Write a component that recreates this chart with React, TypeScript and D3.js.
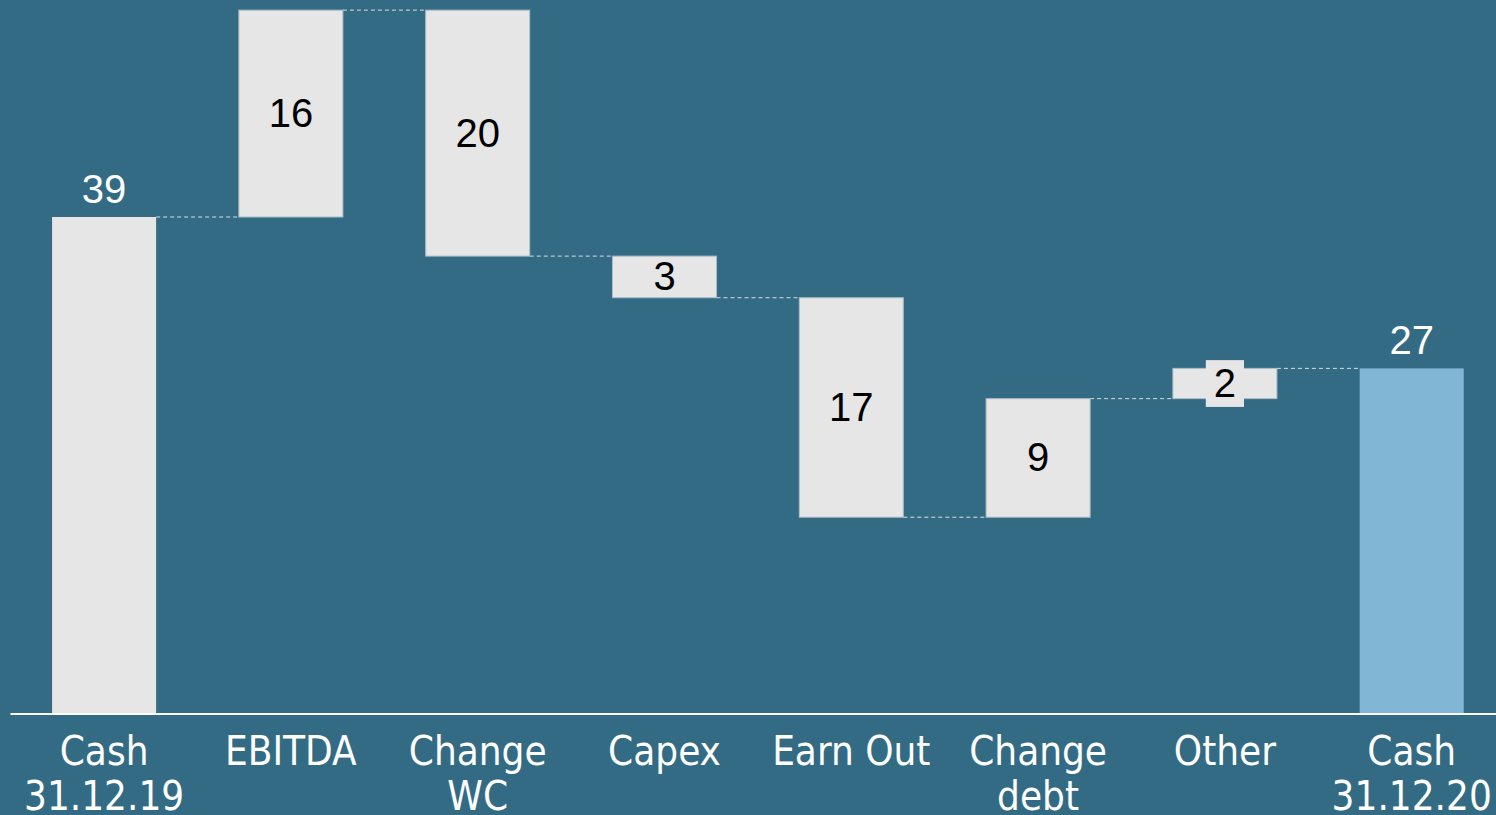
import React from "react";
import * as d3 from "d3";

const categories = ["Cash\n31.12.19", "EBITDA", "Change\nWC", "Capex", "Earn Out", "Change\ndebt", "Other", "Cash\n31.12.20"];
const startValue = 39.4;
const deltas = [16.4, -19.5, -3.3, -17.4, 9.4, 2.4];

const W = 1496;
const H = 815;
const BG = "#336b85";
const BAR = "#e6e6e6";
const END_BAR = "#82b6d5";

export default function App() {
  const x = d3
    .scaleBand<string>()
    .domain(categories)
    .range([10.7, 1505.1])
    .paddingInner(0.443)
    .paddingOuter(0.2215);
  const k = 12.614;
  const y = d3.scaleLinear().domain([0, 56]).range([714, 714 - 56 * k]);

  type Step = { cat: string; y0: number; y1: number; kind: "total" | "delta" | "end"; value: number };
  const steps: Step[] = [];
  let run = startValue;
  steps.push({ cat: categories[0], y0: 0, y1: startValue, kind: "total", value: startValue });
  deltas.forEach((d, i) => {
    const prev = run;
    run = run + d;
    steps.push({ cat: categories[i + 1], y0: prev, y1: run, kind: "delta", value: d });
  });
  steps.push({ cat: categories[categories.length - 1], y0: 0, y1: run, kind: "end", value: run });

  const bw = x.bandwidth();
  const fmt = (v: number) => String(Math.round(Math.abs(v)));

  return (
    <svg width={W} height={H} style={{ position: "absolute", left: 0, top: 0, display: "block" }}>
      <rect x={0} y={0} width={W} height={H} fill={BG} />
      {steps.slice(0, -1).map((s, i) => {
        const next = steps[i + 1];
        const level = s.y1;
        const x1 = (x(s.cat) as number) + bw;
        const x2 = x(next.cat) as number;
        return (
          <line key={"c" + i} x1={x1} x2={x2} y1={y(level)} y2={y(level)} stroke="#d9dde0" strokeWidth={1} strokeDasharray="4,3" />
        );
      })}
      {steps.map((s, i) => {
        const top = y(Math.max(s.y0, s.y1));
        const bot = y(Math.min(s.y0, s.y1));
        const h = bot - top;
        const bx = x(s.cat) as number;
        const cx = bx + bw / 2;
        const label = fmt(s.value);
        const isFloat = s.kind === "delta";
        const mid = (top + bot) / 2;
        return (
          <g key={"b" + i}>
            <rect
              x={bx}
              y={top}
              width={bw}
              height={h}
              fill={s.kind === "end" ? END_BAR : BAR}
              stroke={isFloat ? "#a9bcc6" : "none"}
              strokeWidth={isFloat ? 1 : 0}
            />
            {isFloat && h < 35 && (
              <rect x={cx - (label.length * 22.2 + 16) / 2} y={mid - 23.4} width={label.length * 22.2 + 16} height={46.8} fill={BAR} />
            )}
            {isFloat ? (
              <text x={cx} y={mid + 13.5} textAnchor="middle" fontFamily="'Liberation Sans', Arial, sans-serif" fontSize={40} fill="#000">
                {label}
              </text>
            ) : (
              <text x={cx} y={top - 14} textAnchor="middle" fontFamily="'Liberation Sans', Arial, sans-serif" fontSize={40} fill="#fff">
                {label}
              </text>
            )}
          </g>
        );
      })}
      <line x1={10.5} x2={W} y1={y(0)} y2={y(0)} stroke="#fff" strokeWidth={2} />
      {categories.map((c, i) => {
        const cx = (x(c) as number) + bw / 2;
        const lines = c.split("\n");
        return (
          <text
            key={"t" + i}
            x={cx}
            textAnchor="middle"
            fontFamily="'Liberation Sans Narrow', 'DejaVu Sans Condensed', sans-serif"
            fontSize={40}
            fill="#fff"
          >
            {lines.map((l, j) => (
              <tspan key={j} x={cx} y={765 + j * 45}>
                {l}
              </tspan>
            ))}
          </text>
        );
      })}
    </svg>
  );
}
